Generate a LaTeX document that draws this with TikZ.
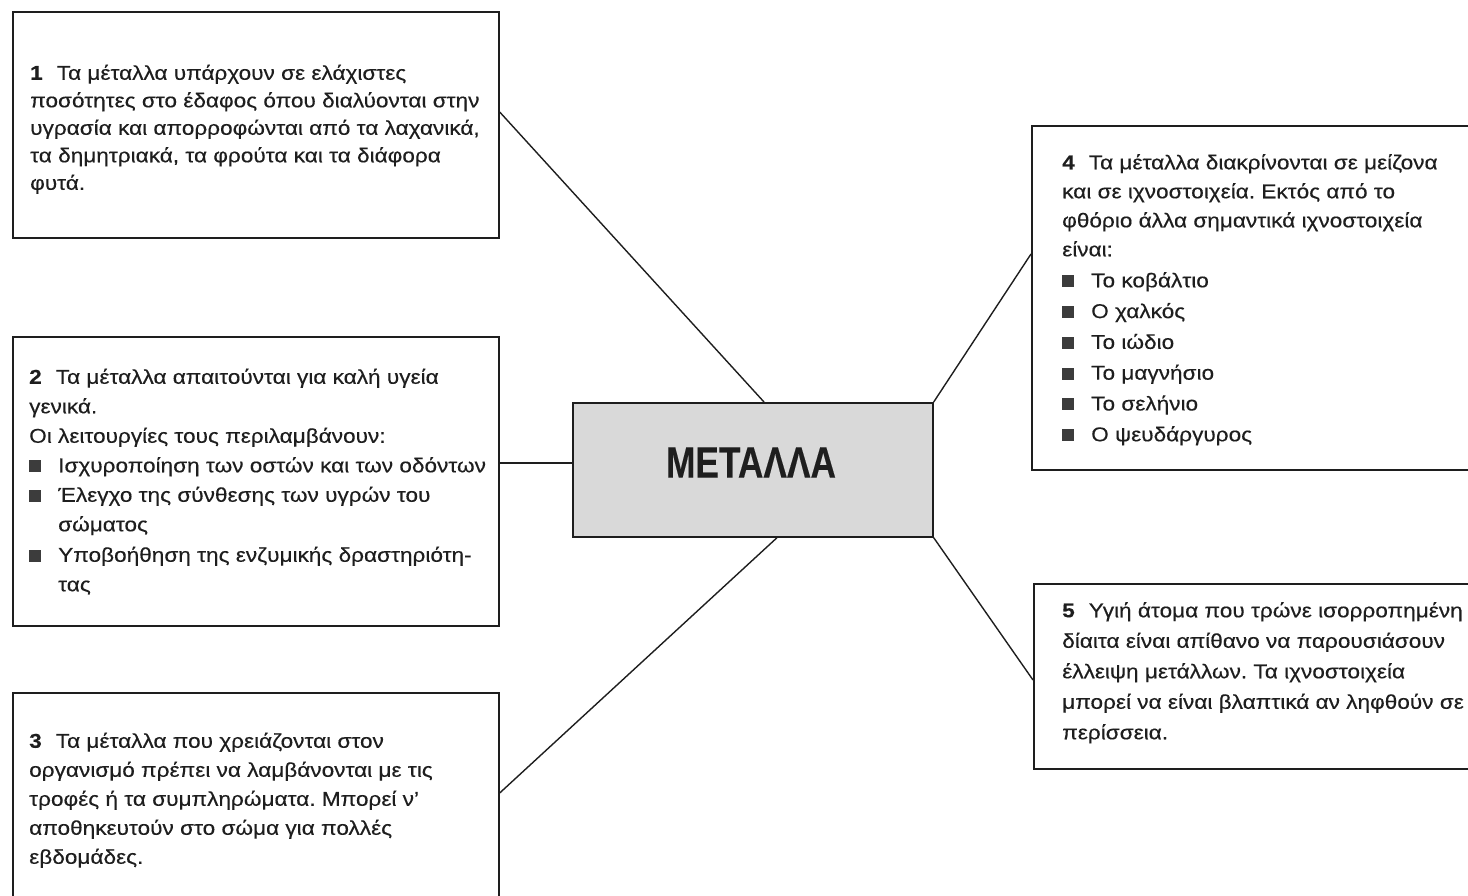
\documentclass[tikz,border=0pt]{standalone}
\usepackage{fontspec}
\setmainfont{Liberation Sans}[FakeStretch=1.13,FakeBold=0.3]
\usetikzlibrary{calc}
\definecolor{ink}{HTML}{1E1E1E}
\definecolor{hubfill}{HTML}{D9D9D9}
\definecolor{bulletgray}{HTML}{3C3C3C}
% square bullet and the indent of a wrapped bullet line
\newcommand\sqitem{\makebox[29pt][l]{\textcolor{bulletgray}{\rule{12pt}{12pt}}}}
\newcommand\contline{\hspace*{29pt}}
\newcommand\num[1]{\textbf{#1}\hspace{0.7em}}
\frenchspacing
\begin{document}
\begin{tikzpicture}[x=1pt,y=-1pt,
  panel/.style={draw=ink,line width=1.7pt,rectangle,inner sep=0pt,anchor=north west},
  hub/.style={panel,fill=hubfill},
  body/.style={anchor=north west,inner sep=0pt,align=left,text=ink,
    font=\fontsize{20}{29.5}\selectfont},
  link/.style={draw=ink,line width=1.4pt}]
\useasboundingbox (0,0) rectangle (1468,896);
\clip (0,0) rectangle (1468,896);

% frames
\node[panel,minimum width=486pt,minimum height=226pt] (b1) at (12,11) {};
\node[panel,minimum width=486pt,minimum height=289pt] (b2) at (12,336) {};
\node[panel,minimum width=486pt,minimum height=220pt] (b3) at (12,692) {};
\node[panel,minimum width=450pt,minimum height=344pt] (b4) at (1031,125) {};
\node[panel,minimum width=450pt,minimum height=185pt] (b5) at (1033,583) {};
\node[hub,minimum width=360pt,minimum height=134pt] (c) at (572,402) {};

% central title
\node[inner sep=0pt,text=ink] (title) at (751,462.5)
  {\scalebox{0.71}[1]{\fontsize{44}{44}\selectfont\bfseries ΜΕΤΑΛΛΑ}};

% texts
\node[body,font=\fontsize{20}{27.5}\selectfont] (t1) at (30,64.5)
{\num{1}Τα μέταλλα υπάρχουν σε ελάχιστες\\
ποσότητες στο έδαφος όπου διαλύονται στην\\
υγρασία και απορροφώνται από τα λαχανικά,\\
τα δημητριακά, τα φρούτα και τα διάφορα\\
φυτά.};

\node[body] (t2) at (29,368.5)
{\num{2}Τα μέταλλα απαιτούνται για καλή υγεία\\
γενικά.\\
Οι λειτουργίες τους περιλαμβάνουν:\\
\sqitem Ισχυροποίηση των οστών και των οδόντων\\
\sqitem Έλεγχο της σύνθεσης των υγρών του\\
\contline σώματος\\[1pt]
\sqitem Υποβοήθηση της ενζυμικής δραστηριότη-\\
\contline τας};

\node[body,font=\fontsize{20}{29}\selectfont] (t3) at (29,732.5)
{\num{3}Τα μέταλλα που χρειάζονται στον\\
οργανισμό πρέπει να λαμβάνονται με τις\\
τροφές ή τα συμπληρώματα. Μπορεί ν’\\
αποθηκευτούν στο σώμα για πολλές\\
εβδομάδες.};

\node[body,font=\fontsize{20}{29}\selectfont] (t4) at (1062,154)
{\num{4}Τα μέταλλα διακρίνονται σε μείζονα\\
και σε ιχνοστοιχεία. Εκτός από το\\
φθόριο άλλα σημαντικά ιχνοστοιχεία\\
είναι:\\[2pt]
\sqitem Το κοβάλτιο\\[1.8pt]
\sqitem Ο χαλκός\\[1.8pt]
\sqitem Το ιώδιο\\[1.8pt]
\sqitem Το μαγνήσιο\\[1.8pt]
\sqitem Το σελήνιο\\[1.8pt]
\sqitem Ο ψευδάργυρος};

\node[body,font=\fontsize{20}{30.5}\selectfont] (t5) at (1062,602)
{\num{5}Υγιή άτομα που τρώνε ισορροπημένη\\
δίαιτα είναι απίθανο να παρουσιάσουν\\
έλλειψη μετάλλων. Τα ιχνοστοιχεία\\
μπορεί να είναι βλαπτικά αν ληφθούν σε\\
περίσσεια.};

% connectors
\draw[link] ($(b1.north east)+(0,101)$) -- ($(c.north west)+(192,0)$);
\draw[link] ($(b2.north east)+(0,127)$) -- ($(c.north west)+(0,61)$);
\draw[link] ($(b3.north east)+(0,101)$) -- ($(c.south west)+(205,0)$);
\draw[link] ($(b4.north west)+(0,129)$) -- (c.north east);
\draw[link] ($(b5.north west)+(0,97)$) -- (c.south east);
\end{tikzpicture}
\end{document}
